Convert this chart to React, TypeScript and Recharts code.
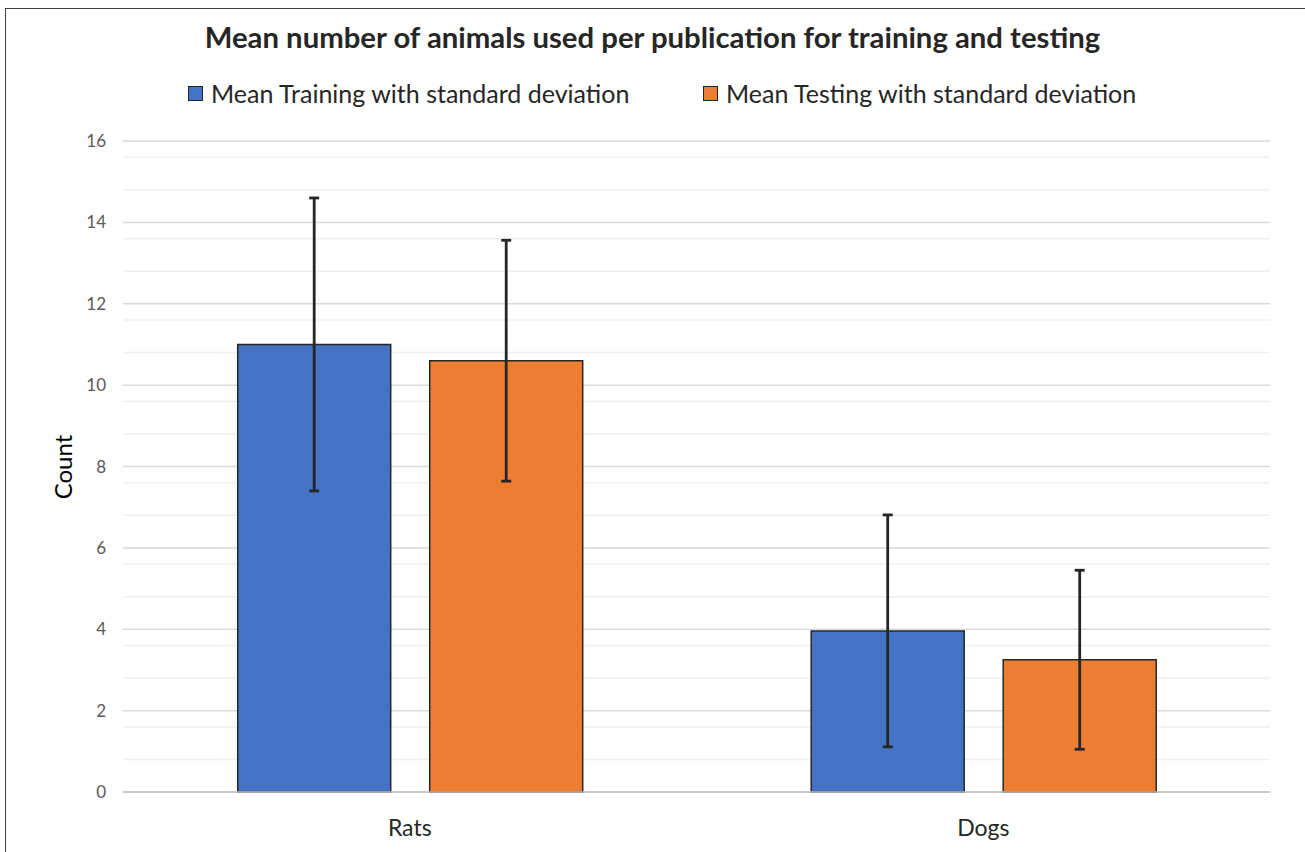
import React from 'react';
import { BarChart, Bar, XAxis, YAxis, CartesianGrid, ErrorBar, Legend } from 'recharts';

const categories = ['Rats', 'Dogs'];
const trainingMean = [11.0, 3.96];
const trainingSd = [3.6, 2.85];
const testingMean = [10.6, 3.25];
const testingSd = [2.96, 2.2];
const yTicks = [0, 2, 4, 6, 8, 10, 12, 14, 16];
const minorTicks = [
  0.4, 0.8, 1.2, 1.6, 2.4, 2.8, 3.2, 3.6, 4.4, 4.8, 5.2, 5.6, 6.4, 6.8, 7.2, 7.6,
  8.4, 8.8, 9.2, 9.6, 10.4, 10.8, 11.2, 11.6, 12.4, 12.8, 13.2, 13.6, 14.4, 14.8, 15.2, 15.6,
];

const TRAIN_COLOR = '#4472C4';
const TEST_COLOR = '#ED7D31';
const FONT = 'Lato, "Open Sans", sans-serif';

const data = categories.map((c, i) => ({
  name: c,
  training: trainingMean[i],
  trainingSd: trainingSd[i],
  testing: testingMean[i],
  testingSd: testingSd[i],
}));

const legendItems = [
  { label: 'Mean Training with standard deviation', color: TRAIN_COLOR, left: 188 },
  { label: 'Mean Testing with standard deviation', color: TEST_COLOR, left: 703 },
];

const renderLegend = () => (
  <div style={{ position: 'relative', width: 1305, height: 30, fontFamily: FONT }}>
    {legendItems.map((it) => (
      <div key={it.label} style={{ position: 'absolute', left: it.left, top: 0, display: 'flex', alignItems: 'center', whiteSpace: 'nowrap' }}>
        <span style={{ display: 'inline-block', width: 13, height: 13, background: it.color, border: '1px solid #262626', marginRight: 8 }} />
        <span style={{ fontSize: 25, color: '#262626' }}>{it.label}</span>
      </div>
    ))}
  </div>
);

const XTick = (props: any) => {
  const { x, y, payload } = props;
  return (
    <text x={x} y={y + 36} textAnchor="middle" fontFamily={FONT} fontSize={23} fill="#262626">
      {payload.value}
    </text>
  );
};

const YTick = (props: any) => {
  const { x, y, payload } = props;
  return (
    <text x={x - 9} y={y + 6} textAnchor="end" fontFamily={FONT} fontSize={17} fill="#595959">
      {payload.value}
    </text>
  );
};

export default function App() {
  return (
    <div style={{ position: 'absolute', left: 0, top: 0, width: 1305, height: 852, background: '#fff', overflow: 'hidden' }}>
      <div style={{ position: 'absolute', left: 5, top: 8, width: 1400, height: 1000, border: '1.5px solid #404040', boxSizing: 'border-box' }} />
      <div style={{ position: 'absolute', left: 0, top: 19, width: 1305, textAlign: 'center', fontFamily: FONT, fontWeight: 700, fontSize: 29.3, color: '#262626' }}>
        Mean number of animals used per publication for training and testing
      </div>
      <div style={{ position: 'absolute', left: 0, top: 0 }}>
        <BarChart width={1305} height={852} data={data} margin={{ top: 111, right: 35, bottom: 30, left: 63 }} barCategoryGap="20%" barGap={39}>
          <CartesianGrid horizontal vertical={false} horizontalValues={minorTicks} stroke="#efefef" strokeWidth={1.5} />
          <CartesianGrid horizontal vertical={false} horizontalValues={yTicks} stroke="#d9d9d9" strokeWidth={1.5} />
          <XAxis dataKey="name" axisLine={{ stroke: '#bfbfbf', strokeWidth: 1.5 }} tickLine={false} tick={<XTick />} />
          <YAxis domain={[0, 16]} ticks={yTicks} width={60} axisLine={false} tickLine={false} tick={<YTick />} />
          <Legend verticalAlign="top" content={renderLegend} wrapperStyle={{ top: 78, left: 0, width: 1305 }} />
          <Bar dataKey="training" fill={TRAIN_COLOR} stroke="#262626" strokeWidth={1.5} isAnimationActive={false}>
            <ErrorBar dataKey="trainingSd" width={5} strokeWidth={2.8} stroke="#262626" direction="y" />
          </Bar>
          <Bar dataKey="testing" fill={TEST_COLOR} stroke="#262626" strokeWidth={1.5} isAnimationActive={false}>
            <ErrorBar dataKey="testingSd" width={5} strokeWidth={2.8} stroke="#262626" direction="y" />
          </Bar>
        </BarChart>
      </div>
      <div style={{ position: 'absolute', left: 62, top: 467, transform: 'translate(-50%, -50%) rotate(-90deg)', fontFamily: FONT, fontSize: 24, color: '#000', whiteSpace: 'nowrap' }}>
        Count
      </div>
    </div>
  );
}
